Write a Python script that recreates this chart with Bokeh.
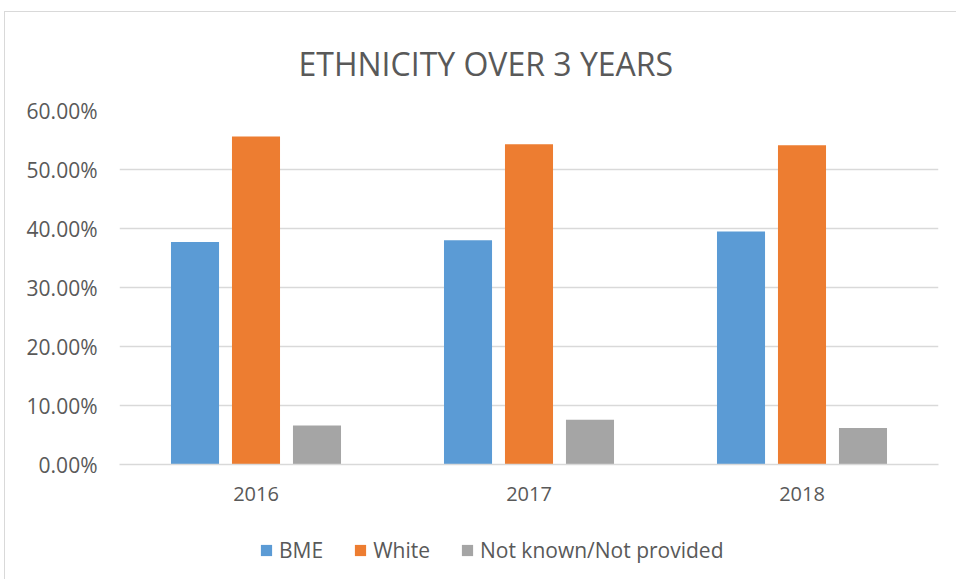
from bokeh.plotting import figure
from bokeh.layouts import column
from bokeh.models import (ColumnDataSource, NumeralTickFormatter, Legend, LegendItem,
                          FactorRange, Range1d, FixedTicker)
from bokeh.transform import dodge
from bokeh.embed import file_html
from bokeh.resources import INLINE

years = ["2016", "2017", "2018"]
bme = [0.377, 0.380, 0.395]
white = [0.556, 0.543, 0.541]
not_known = [0.066, 0.076, 0.062]
y_ticks = [0.0, 0.1, 0.2, 0.3, 0.4, 0.5, 0.6]
series_names = ["BME", "White", "Not known/Not provided"]
colors = ["#5B9BD5", "#ED7D31", "#A5A5A5"]
title_text = "ETHNICITY OVER 3 YEARS"

src = ColumnDataSource(dict(year=years, bme=bme, white=white, nk=not_known))

FONT = "Open Sans"
TXT = "#595959"
GRID = "#d9d9d9"

p = figure(x_range=FactorRange(*years, range_padding=0), y_range=Range1d(0, y_ticks[-1]),
           width=951, height=498, output_backend="svg", toolbar_location=None,
           min_border_left=114, min_border_right=18, min_border_top=98, min_border_bottom=46,
           title=title_text)

keys = ["bme", "white", "nk"]
offsets = [-0.2234, 0.0, 0.2234]
for key, off, col in zip(keys, offsets, colors):
    p.vbar(x=dodge("year", off, range=p.x_range), top=key, width=0.176, source=src,
           fill_color=col, line_color=None)

p.title.align = "left"
p.title.text_font = FONT
p.title.text_font_size = "32px"
p.title.text_font_style = "normal"
p.title.text_color = TXT
p.title.offset = 179
p.title.standoff = 52

p.yaxis.ticker = FixedTicker(ticks=y_ticks)
p.yaxis.formatter = NumeralTickFormatter(format="0.00%")
p.yaxis.axis_line_color = None
p.yaxis.major_tick_line_color = None
p.yaxis.major_tick_out = 0
p.yaxis.major_tick_in = 0
p.yaxis.minor_tick_line_color = None
p.yaxis.major_label_standoff = 22
p.yaxis.major_label_text_font = FONT
p.yaxis.major_label_text_font_size = "21px"
p.yaxis.major_label_text_color = TXT

p.xaxis.axis_line_color = GRID
p.xaxis.axis_line_width = 1.5
p.xaxis.major_tick_line_color = None
p.xaxis.major_tick_out = 0
p.xaxis.major_tick_in = 0
p.xaxis.minor_tick_line_color = None
p.xaxis.major_label_standoff = 22
p.xaxis.major_label_text_font = FONT
p.xaxis.major_label_text_font_size = "20px"
p.xaxis.major_label_text_color = TXT

p.xgrid.grid_line_color = None
p.ygrid.grid_line_color = GRID
p.ygrid.grid_line_width = 1.5
p.outline_line_color = None

# legend strip below the chart (bars of the same data lie outside its visible range)
lp = figure(width=951, height=69, output_backend="svg", toolbar_location=None,
            x_axis_type=None, y_axis_type=None, min_border=0,
            x_range=FactorRange(*years), y_range=Range1d(2, 3))
lp.outline_line_color = None
lp.xgrid.grid_line_color = None
lp.ygrid.grid_line_color = None
items = []
for name, key, col in zip(series_names, keys, colors):
    r = lp.vbar(x="year", top=key, width=0.1, source=src, fill_color=col, line_color=None)
    items.append(LegendItem(label=name, renderers=[r]))
legend = Legend(items=items, orientation="horizontal", location=(140, 15),
                border_line_color=None, background_fill_alpha=0, padding=10, margin=0,
                label_text_font=FONT, label_text_font_size="21px", label_text_color=TXT,
                glyph_width=14, glyph_height=14, spacing=30, label_standoff=6)
lp.add_layout(legend, "center")

layout = column(p, lp, spacing=0, margin=(11, 0, 0, 4),
                styles={"border-left": "1px solid #d9d9d9", "border-top": "1px solid #d9d9d9"})

open("out.html", "w").write(file_html(layout, INLINE))
